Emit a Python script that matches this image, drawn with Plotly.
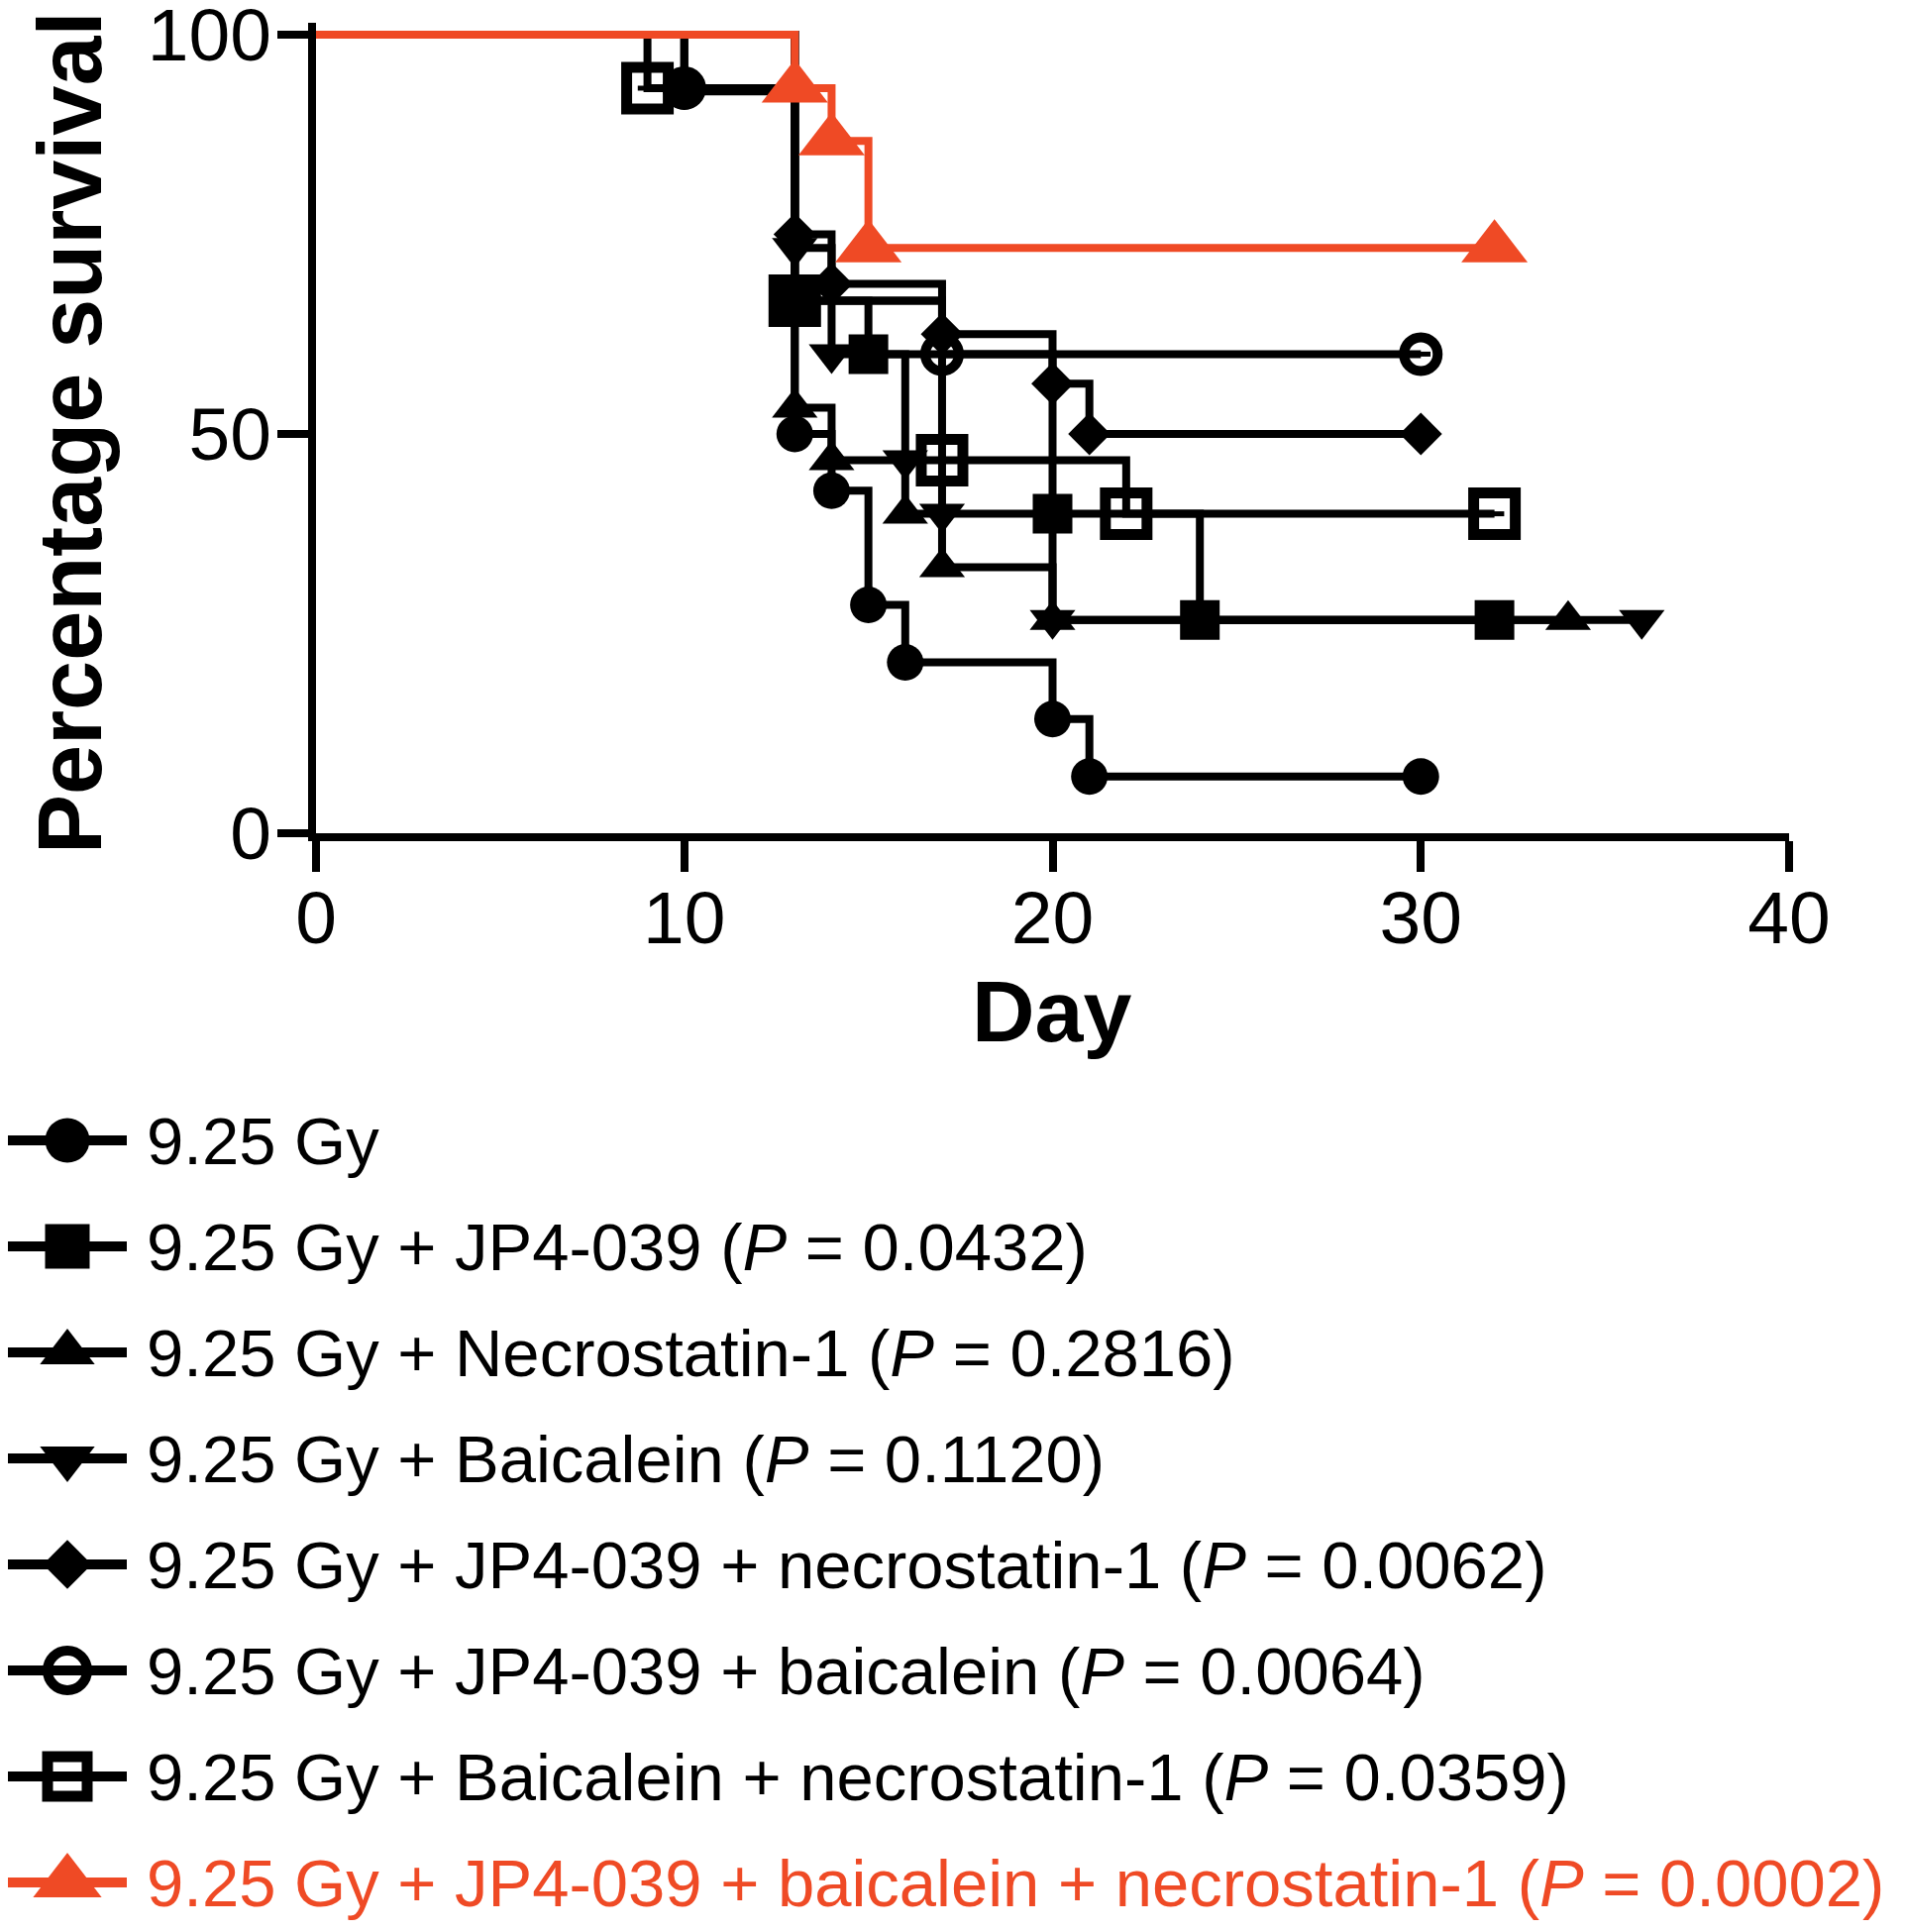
import plotly.graph_objects as go

W, H = 1923, 1950
OFF = 8   # page body margin that shifts the whole figure in the photo
OFFX = 3  # horizontal shift used for the main axes
BLACK = "#000000"
RED = "#EF4A25"
FONT = "Liberation Sans, Arial, Helvetica, sans-serif"

# ---- data (Kaplan-Meier steps: day, percentage survival after each event) ----
gy_day = [0, 10, 13, 14, 15, 16, 20, 21, 30]
gy_pct = [100, 92.9, 50.0, 42.9, 28.6, 21.4, 14.3, 7.1, 7.1]

jp_day = [0, 13, 15, 20, 24, 32]
jp_pct = [100, 66.7, 60.0, 40.0, 26.7, 26.7]

nec_day = [0, 13, 14, 16, 17, 20, 34]
nec_pct = [100, 53.3, 46.7, 40.0, 33.3, 26.7, 26.7]

bai_day = [0, 13, 14, 16, 17, 20, 36]
bai_pct = [100, 73.3, 60.0, 46.7, 40.0, 26.7, 26.7]

jpnec_day = [0, 13, 14, 17, 20, 21, 30]
jpnec_pct = [100, 75.0, 68.8, 62.5, 56.3, 50.0, 50.0]

jpbai_day = [0, 10, 13, 17, 30]
jpbai_pct = [100, 93.3, 66.7, 60.0, 60.0]

bainec_day = [0, 9, 13, 17, 22, 32]
bainec_pct = [100, 93.3, 66.7, 46.7, 40.0, 40.0]

all_day = [0, 13, 14, 15, 32]
all_pct = [100, 93.3, 86.7, 73.3, 73.3]

names = [
    "9.25 Gy",
    "9.25 Gy + JP4-039 (<i>P</i> = 0.0432)",
    "9.25 Gy + Necrostatin-1 (<i>P</i> = 0.2816)",
    "9.25 Gy + Baicalein (<i>P</i> = 0.1120)",
    "9.25 Gy + JP4-039 + necrostatin-1 (<i>P</i> = 0.0062)",
    "9.25 Gy + JP4-039 + baicalein (<i>P</i> = 0.0064)",
    "9.25 Gy + Baicalein + necrostatin-1 (<i>P</i> = 0.0359)",
    "9.25 Gy + JP4-039 + baicalein + necrostatin-1 (<i>P</i> = 0.0002)",
]

x_ticks = [0, 10, 20, 30, 40]
y_ticks = [0, 50, 100]

# ---- styles ----
series = [
    dict(x=gy_day, y=gy_pct, symbol="circle", size=37, lsize=45, color=BLACK, lw=0),
    dict(x=jp_day, y=jp_pct, symbol="square", size=40, lsize=45, color=BLACK, lw=0),
    dict(x=nec_day, y=nec_pct, symbol="triangle-up", size=40, lsize=48, color=BLACK, lw=0),
    dict(x=bai_day, y=bai_pct, symbol="triangle-down", size=40, lsize=48, color=BLACK, lw=0),
    dict(x=jpnec_day, y=jpnec_pct, symbol="diamond", size=33, lsize=38, color=BLACK, lw=0),
    dict(x=jpbai_day, y=jpbai_pct, symbol="circle-open", size=34, lsize=40, color=BLACK, lw=10),
    dict(x=bainec_day, y=bainec_pct, symbol="square-open", size=42, lsize=40, color=BLACK, lw=11),
    dict(x=all_day, y=all_pct, symbol="triangle-up", size=58, lsize=60, color=RED, lw=0),
]

LW = 8       # curve line width
LEG_LW = 10  # legend line width

fig = go.Figure()

# main plot: step lines
for s in series:
    fig.add_trace(go.Scatter(
        x=s["x"], y=s["y"], mode="lines", line=dict(color=s["color"], width=LW, shape="hv"),
        showlegend=False, cliponaxis=False, hoverinfo="skip"))
# main plot: symbols at each step and at the end
for s in series:
    fig.add_trace(go.Scatter(
        x=s["x"][1:], y=s["y"][1:], mode="markers",
        marker=dict(symbol=s["symbol"], size=s["size"], color=s["color"],
                    line=dict(width=s["lw"], color=s["color"])),
        showlegend=False, cliponaxis=False))
    if s["lw"]:
        fig.add_trace(go.Scatter(
            x=s["x"][1:], y=s["y"][1:], mode="markers",
            marker=dict(symbol="line-ew-open", size=14, color=s["color"],
                        line=dict(width=5, color=s["color"])),
            showlegend=False, cliponaxis=False, hoverinfo="skip"))

# custom legend drawn on a pixel-unit helper axis
row0, row_gap = 1151 - OFF, 107
lx0, lx1, lxm, tx = 8 - OFF, 128 - OFF, 68 - OFF, 146 - OFF
for i, (s, name) in enumerate(zip(series, names)):
    ry = row0 + i * row_gap
    fig.add_trace(go.Scatter(
        x=[lx0, lx1], y=[ry, ry], mode="lines", line=dict(color=s["color"], width=LEG_LW),
        xaxis="x2", yaxis="y2", showlegend=False, cliponaxis=False, hoverinfo="skip"))
    fig.add_trace(go.Scatter(
        x=[lxm], y=[ry], mode="markers",
        marker=dict(symbol=s["symbol"], size=s["lsize"], color=s["color"],
                    line=dict(width=s["lw"], color=s["color"])),
        xaxis="x2", yaxis="y2", showlegend=False, cliponaxis=False, hoverinfo="skip"))
    if s["lw"]:
        fig.add_trace(go.Scatter(
            x=[lxm], y=[ry], mode="markers",
            marker=dict(symbol="line-ew-open", size=18, color=s["color"],
                        line=dict(width=6, color=s["color"])),
            xaxis="x2", yaxis="y2", showlegend=False, cliponaxis=False, hoverinfo="skip"))
    fig.add_annotation(x=tx, y=ry, xref="x2", yref="y2", text=name, showarrow=False,
                       xanchor="left", yanchor="middle",
                       font=dict(family=FONT, size=67, color=s["color"]))

axis_common = dict(showline=True, linewidth=8, linecolor=BLACK, ticks="outside",
                   tickwidth=8, ticklen=31, tickcolor=BLACK, showgrid=False, zeroline=False,
                   automargin=False, ticklabeloverflow="allow",
                   tickfont=dict(family=FONT, size=75, color=BLACK))

# main axes placement (photo pixels -> svg pixels)
x_left, x_right = 314 - OFFX, 1801 - OFFX
y100, y0 = 35 - OFF, 841 - OFF
y_top_val = 101.5
y_top = y0 - (y0 - y100) * y_top_val / 100

fig.update_layout(
    template="none",
    width=W, height=H,
    margin=dict(l=0, r=0, t=0, b=0, pad=0, autoexpand=False),
    paper_bgcolor="white", plot_bgcolor="rgba(0,0,0,0)",
    showlegend=False,
    xaxis=dict(domain=[x_left / W, x_right / W], range=[0, 40], tickvals=x_ticks, anchor="y",
               ticklabelstandoff=-18, **axis_common),
    yaxis=dict(domain=[(H - y0) / H, (H - y_top) / H], range=[0, y_top_val], tickvals=y_ticks,
               anchor="x", ticklabelstandoff=-9, **axis_common),
    xaxis2=dict(domain=[0, 1], range=[0, W], visible=False, anchor="y2", automargin=False),
    yaxis2=dict(domain=[0, 1], range=[H, 0], visible=False, anchor="x2", automargin=False),
)

fig.add_annotation(x=(1056 - OFFX) / W, y=(H - (1020 - OFF)) / H, xref="paper", yref="paper",
                   text="Day", showarrow=False, xanchor="center", yanchor="middle",
                   font=dict(family=FONT, size=88, color=BLACK, weight="bold"))
fig.add_annotation(x=(71 - OFF) / W, y=(H - (437 - OFF)) / H, xref="paper", yref="paper",
                   text="Percentage survival", textangle=-90, showarrow=False,
                   xanchor="center", yanchor="middle",
                   font=dict(family=FONT, size=90, color=BLACK, weight="bold"))

fig.write_html("out.html")
